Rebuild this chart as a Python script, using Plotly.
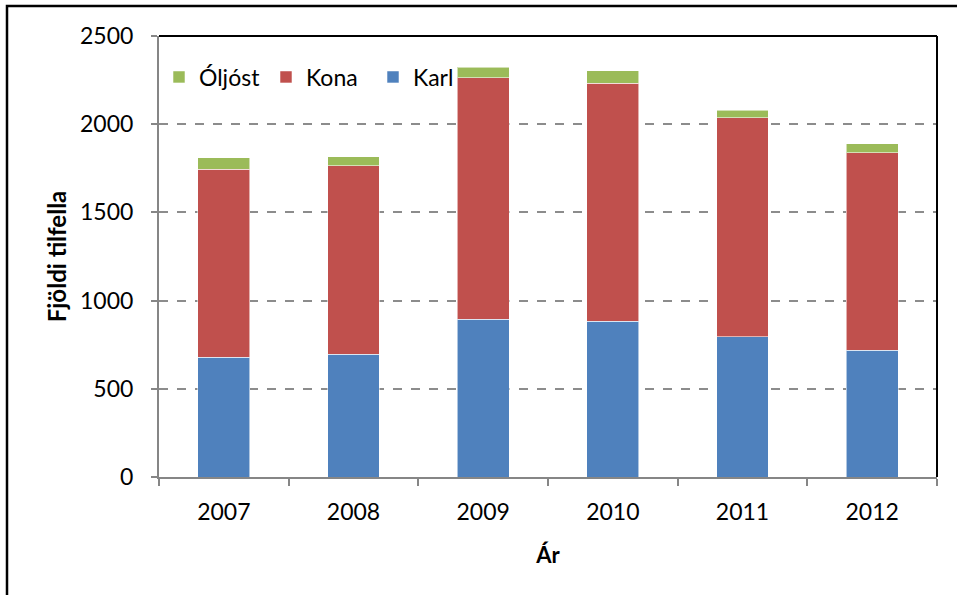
import plotly.graph_objects as go

years = ["2007", "2008", "2009", "2010", "2011", "2012"]
karl = [680, 697, 894, 882, 794, 718]
kona = [1064, 1068, 1370, 1350, 1243, 1119]
oljost = [66, 51, 60, 70, 43, 51]
y_ticks = [0, 500, 1000, 1500, 2000, 2500]

W, H = 957, 595
L, R, T, B = 159, 20, 36, 118
pw, ph = W - L - R, H - T - B

FONT = "Lato"

fig = go.Figure()
line = dict(color="rgba(255,255,255,0.55)", width=1)
fig.add_trace(go.Bar(x=years, y=karl, name="Karl", marker=dict(color="#4F81BD", line=line)))
fig.add_trace(go.Bar(x=years, y=kona, name="Kona", marker=dict(color="#C0504D", line=line)))
fig.add_trace(go.Bar(x=years, y=oljost, name="Óljóst", marker=dict(color="#9BBB59", line=line)))


def px_x(p):
    return (p - L) / pw


def px_y(p):
    return (H - B - p) / ph


fig.update_layout(
    width=W, height=H,
    margin=dict(l=L, r=R, t=T, b=B, pad=0),
    barmode="stack", bargap=0.6,
    plot_bgcolor="white", paper_bgcolor="white",
    font=dict(family=FONT, color="black", size=23),
    showlegend=True,
    legend=dict(orientation="h", traceorder="reversed", x=px_x(159), y=px_y(77),
                xanchor="left", yanchor="middle", font=dict(size=23),
                bgcolor="rgba(0,0,0,0)", itemwidth=30,
                entrywidth=62, entrywidthmode="pixels"),
    xaxis=dict(type="category", showline=True, linecolor="#868686", linewidth=2,
               ticks="outside", tickson="boundaries", ticklen=7, tickcolor="#868686",
               tickwidth=2, showgrid=False, tickfont=dict(size=23),
               ticklabelstandoff=13,
               title=dict(text="<b>Ár</b>", font=dict(size=22), standoff=24)),
    yaxis=dict(range=[0, 2500], tickvals=y_ticks, showline=True, linecolor="#868686",
               linewidth=2, ticks="outside", ticklen=6, tickcolor="#868686", tickwidth=2,
               showgrid=True, gridcolor="#8c8c8c", griddash="dash", gridwidth=1.5,
               zeroline=False, ticklabelstandoff=13, tickfont=dict(size=23),
               title=dict(text="<b>Fjöldi tilfella</b>", font=dict(size=24), standoff=7)),
    shapes=[
        dict(type="line", xref="paper", yref="paper", x0=0, x1=1, y0=1, y1=1,
             line=dict(color="black", width=2)),
        dict(type="line", xref="paper", yref="paper", x0=1, x1=1, y0=0, y1=1,
             line=dict(color="black", width=2)),
        dict(type="rect", xref="paper", yref="paper", x0=px_x(7), x1=px_x(975),
             y0=px_y(620), y1=px_y(6), line=dict(color="black", width=2.5),
             layer="below"),
    ],
)

fig.write_html(
    "out.html",
    config={"displayModeBar": False},
    post_script="document.body.style.margin='0';document.body.style.overflow='hidden';",
)
